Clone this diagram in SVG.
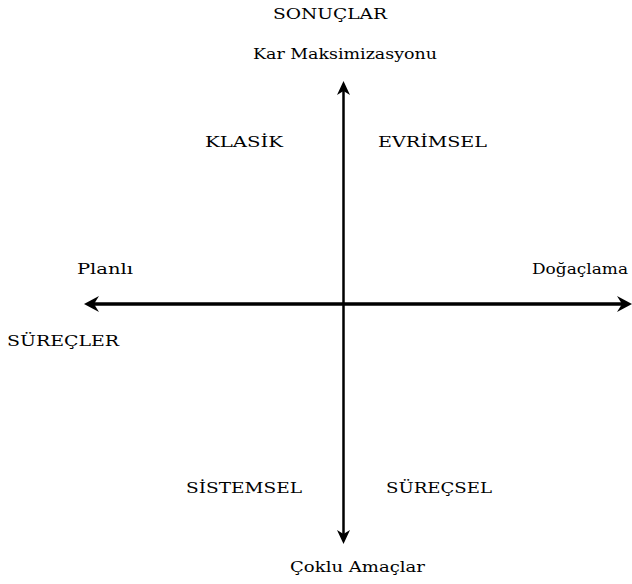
<svg xmlns="http://www.w3.org/2000/svg" width="632" height="584" viewBox="0 0 632 584">
<style>
text{font-family:'DejaVu Serif','Liberation Serif',serif;font-size:14px;fill:#000}
.ax{stroke:#000;fill:none}
.hd{fill:#000}
</style>
<rect width="632" height="584" fill="#fff"/>
<g id="connectors">
<line class="ax" x1="343.5" y1="88" x2="343.5" y2="538" stroke-width="2.5"/>
<path class="hd" d="M343.5 81 L350 95 L343.5 91 L337 95 Z"/>
<path class="hd" d="M343.5 544 L350 530 L343.5 534 L337 530 Z"/>
<line class="ax" x1="92" y1="304" x2="624" y2="304" stroke-width="3.5"/>
<path class="hd" d="M84 304 L99 296 L94 304 L99 312 Z"/>
<path class="hd" d="M632 304 L617 296 L622 304 L617 312 Z"/>
</g>
<g id="top-label"><text x="273" y="19" textLength="114" lengthAdjust="spacingAndGlyphs">SONUÇLAR</text></g>
<g id="top"><text x="253" y="59" textLength="184" lengthAdjust="spacingAndGlyphs">Kar Maksimizasyonu</text></g>
<g id="klasik"><text x="205" y="147" textLength="78" lengthAdjust="spacingAndGlyphs">KLASİK</text></g>
<g id="evrimsel"><text x="378" y="147" textLength="109" lengthAdjust="spacingAndGlyphs">EVRİMSEL</text></g>
<g id="left"><text x="77" y="274" textLength="56" lengthAdjust="spacingAndGlyphs">Planlı</text></g>
<g id="right"><text x="532" y="274" textLength="96" lengthAdjust="spacingAndGlyphs">Doğaçlama</text></g>
<g id="left-label"><text x="7" y="346" textLength="112" lengthAdjust="spacingAndGlyphs">SÜREÇLER</text></g>
<g id="sistemsel"><text x="186" y="493" textLength="116" lengthAdjust="spacingAndGlyphs">SİSTEMSEL</text></g>
<g id="surecsel"><text x="386" y="493" textLength="106" lengthAdjust="spacingAndGlyphs">SÜREÇSEL</text></g>
<g id="bottom"><text x="290" y="572" textLength="135" lengthAdjust="spacingAndGlyphs">Çoklu Amaçlar</text></g>
</svg>
